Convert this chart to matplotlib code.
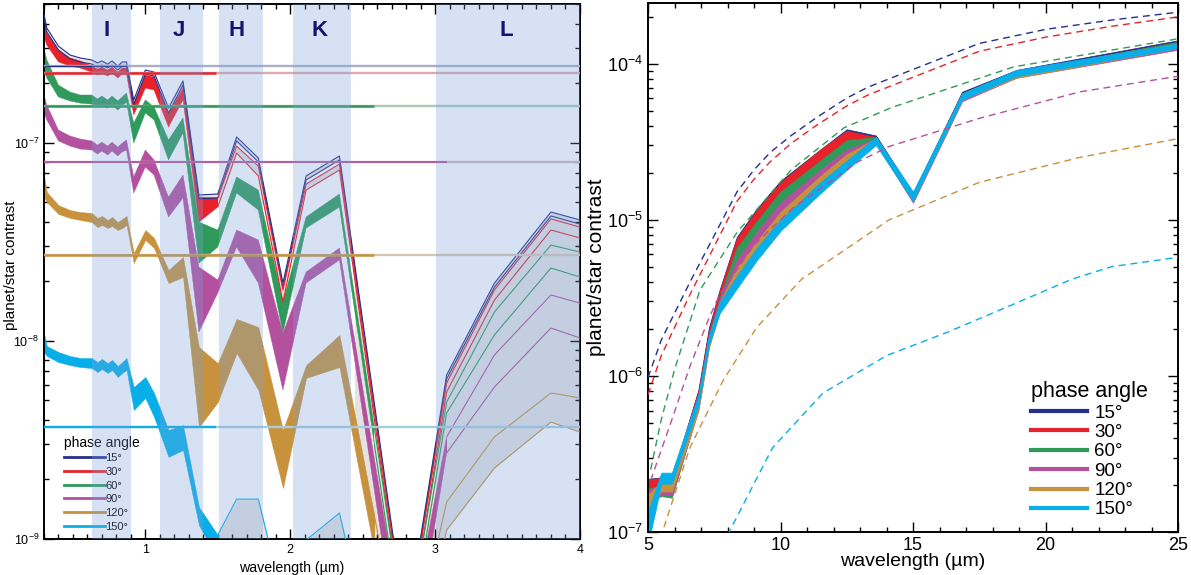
import numpy as np
import matplotlib
matplotlib.use('Agg')
import matplotlib.pyplot as plt
from matplotlib.patches import Rectangle
from matplotlib.colors import to_rgb
from matplotlib.ticker import LogLocator, MultipleLocator, FixedLocator, NullFormatter

plt.rcParams['font.family'] = ['Liberation Sans', 'DejaVu Sans']
plt.rcParams['mathtext.fontset'] = 'custom'
plt.rcParams['mathtext.rm'] = 'Liberation Sans'

phase_labels = ['15°', '30°', '60°', '90°', '120°', '150°']
colors = ['#262f8c', '#e8222b', '#2f9a5a', '#b4519f', '#c8913c', '#08aee8']

# ---------------- left panel data (log10 contrast) ----------------
lam_left = [0.30, 0.32, 0.40, 0.48, 0.55, 0.63, 0.67, 0.70, 0.74, 0.77, 0.81, 0.84, 0.87,
            0.92, 1.00, 1.06, 1.16, 1.26, 1.37, 1.50, 1.63, 1.78, 1.95, 2.11, 2.34, 2.80,
            3.08, 3.41, 3.80, 4.00]

p15_hi = [-6.350,-6.421,-6.512,-6.557,-6.572,-6.582,-6.597,-6.587,-6.603,-6.587,-6.613,-6.592,-6.592,-6.784,-6.633,-6.643,-6.825,-6.688,-7.264,-7.259,-6.971,-7.077,-7.709,-7.168,-7.067,-9.451,-8.173,-7.709,-7.350,-7.390]
p15_lo = [-6.370,-6.441,-6.532,-6.577,-6.592,-6.603,-6.618,-6.608,-6.623,-6.608,-6.633,-6.613,-6.613,-6.810,-6.653,-6.663,-6.850,-6.709,-7.284,-7.279,-6.991,-7.097,-7.734,-7.188,-7.087,-9.476,-8.193,-7.729,-7.370,-7.411]
p30_hi = [-6.370,-6.446,-6.532,-6.572,-6.587,-6.613,-6.628,-6.618,-6.633,-6.618,-6.643,-6.623,-6.623,-6.800,-6.658,-6.668,-6.850,-6.724,-7.274,-7.279,-7.017,-7.118,-7.744,-7.209,-7.108,-9.486,-8.214,-7.744,-7.385,-7.426]
p30_lo = [-6.466,-6.507,-6.592,-6.613,-6.623,-6.643,-6.658,-6.648,-6.663,-6.648,-6.673,-6.653,-6.653,-6.860,-6.724,-6.734,-6.921,-6.784,-7.401,-7.325,-7.052,-7.168,-7.805,-7.239,-7.138,-9.537,-8.259,-7.795,-7.441,-7.481]
p60_hi = [-6.522,-6.582,-6.709,-6.744,-6.759,-6.759,-6.779,-6.764,-6.784,-6.764,-6.789,-6.769,-6.749,-6.901,-6.784,-6.820,-6.986,-6.875,-7.401,-7.441,-7.173,-7.239,-7.805,-7.375,-7.259,-9.512,-8.310,-7.855,-7.517,-7.552]
p60_lo = [-6.633,-6.673,-6.769,-6.789,-6.800,-6.805,-6.820,-6.810,-6.825,-6.810,-6.835,-6.815,-6.795,-7.002,-6.850,-6.885,-7.087,-6.951,-7.608,-7.527,-7.254,-7.340,-7.961,-7.431,-7.325,-9.613,-8.365,-7.971,-7.633,-7.678]
p90_hi = [-6.759,-6.810,-6.936,-6.966,-6.981,-6.991,-7.012,-6.997,-7.017,-6.997,-7.022,-7.002,-6.986,-7.173,-7.037,-7.087,-7.274,-7.163,-7.628,-7.693,-7.441,-7.491,-7.961,-7.653,-7.532,-9.562,-8.486,-8.072,-7.769,-7.810]
p90_lo = [-6.850,-6.885,-6.991,-7.017,-7.032,-7.037,-7.057,-7.042,-7.062,-7.042,-7.067,-7.047,-7.037,-7.254,-7.123,-7.163,-7.375,-7.279,-7.956,-7.759,-7.527,-7.709,-8.249,-7.709,-7.592,-9.815,-8.567,-8.234,-7.936,-7.986]
p120_hi = [-7.163,-7.249,-7.315,-7.340,-7.350,-7.355,-7.380,-7.370,-7.390,-7.375,-7.401,-7.385,-7.370,-7.557,-7.441,-7.481,-7.643,-7.577,-8.032,-8.113,-7.890,-7.931,-8.451,-8.123,-7.971,-9.714,-8.815,-8.486,-8.264,-8.289]
p120_lo = [-7.274,-7.300,-7.360,-7.380,-7.390,-7.401,-7.426,-7.416,-7.431,-7.421,-7.441,-7.431,-7.416,-7.608,-7.491,-7.532,-7.709,-7.678,-8.436,-8.310,-8.062,-8.249,-8.744,-8.188,-8.133,-9.916,-8.956,-8.643,-8.411,-8.461]
p150_hi = [-7.961,-8.027,-8.057,-8.077,-8.087,-8.087,-8.108,-8.092,-8.113,-8.097,-8.128,-8.108,-8.087,-8.234,-8.183,-8.264,-8.451,-8.426,-8.840,-8.981,-8.800,-8.800,-9.310,-9.007,-8.870,-10.32,-10.00,-9.76,-9.31,-9.31]
p150_lo = [-8.057,-8.077,-8.108,-8.123,-8.133,-8.138,-8.158,-8.143,-8.163,-8.148,-8.183,-8.163,-8.148,-8.350,-8.289,-8.385,-8.587,-8.552,-8.931,-9.108,-9.108,-9.108,-9.562,-9.158,-9.108,-10.57,-10.25,-10.00,-9.56,-9.56]

left_hi = [p15_hi, p30_hi, p60_hi, p90_hi, p120_hi, p150_hi]
left_lo = [p15_lo, p30_lo, p60_lo, p90_lo, p120_lo, p150_lo]
left_fill_end = [0.30, 1.50, 2.58, 3.08, 2.58, 1.50]   # solid-colour part of each band
ref_level = [2.45e-7, 2.24e-7, 1.54e-7, 8.0e-8, 2.72e-8, 3.66e-9]
ref_end = [0.87, 1.49, 2.58, 3.08, 2.58, 1.49]
ref_lw = [1.0, 1.8, 1.8, 1.3, 1.8, 1.6]

band_names = ['I', 'J', 'H', 'K', 'L']
band_lo = [0.63, 1.10, 1.51, 2.02, 3.01]
band_hi = [0.90, 1.40, 1.81, 2.42, 4.00]
band_label_x = [0.73, 1.23, 1.63, 2.20, 3.49]

# ---------------- right panel data (log10 contrast) ----------------
lam_right = [5.0, 5.5, 5.9, 6.9, 7.3, 7.7, 8.35, 9.1, 10.0, 11.5, 12.5, 13.6, 15.0, 16.85, 18.9, 25.0]
r15_hi = [-6.66,-6.65,-6.65,-6.09,-5.69,-5.45,-5.11,-4.93,-4.75,-4.55,-4.42,-4.46,-4.83,-4.18,-4.04,-3.85]
r15_lo = [-6.72,-6.71,-6.72,-6.15,-5.76,-5.51,-5.19,-5.01,-4.83,-4.62,-4.49,-4.49,-4.87,-4.21,-4.07,-3.88]
r30_hi = [-6.67,-6.65,-6.65,-6.10,-5.71,-5.46,-5.12,-4.94,-4.76,-4.55,-4.43,-4.47,-4.83,-4.19,-4.05,-3.86]
r30_lo = [-6.74,-6.72,-6.72,-6.17,-5.77,-5.53,-5.19,-5.01,-4.83,-4.62,-4.49,-4.49,-4.87,-4.22,-4.08,-3.89]
r60_hi = [-6.72,-6.71,-6.73,-6.14,-5.74,-5.50,-5.18,-5.01,-4.82,-4.62,-4.49,-4.47,-4.84,-4.19,-4.05,-3.86]
r60_lo = [-6.80,-6.77,-6.78,-6.21,-5.80,-5.56,-5.26,-5.08,-4.90,-4.68,-4.55,-4.51,-4.88,-4.22,-4.08,-3.89]
r90_hi = [-6.73,-6.70,-6.70,-6.14,-5.75,-5.51,-5.26,-5.08,-4.89,-4.68,-4.55,-4.48,-4.85,-4.21,-4.06,-3.88]
r90_lo = [-6.83,-6.76,-6.76,-6.22,-5.81,-5.58,-5.32,-5.14,-4.96,-4.74,-4.60,-4.51,-4.89,-4.24,-4.09,-3.91]
r120_hi = [-6.76,-6.68,-6.68,-6.15,-5.76,-5.53,-5.31,-5.14,-4.95,-4.72,-4.58,-4.48,-4.84,-4.20,-4.06,-3.87]
r120_lo = [-6.86,-6.74,-6.74,-6.22,-5.82,-5.59,-5.37,-5.19,-5.01,-4.78,-4.64,-4.51,-4.88,-4.23,-4.09,-3.90]
r150_hi = [-6.87,-6.62,-6.62,-6.12,-5.74,-5.53,-5.36,-5.18,-5.00,-4.76,-4.62,-4.47,-4.82,-4.19,-4.04,-3.87]
r150_lo = [-7.08,-6.69,-6.69,-6.19,-5.80,-5.60,-5.44,-5.26,-5.07,-4.83,-4.68,-4.52,-4.88,-4.23,-4.08,-3.90]
right_hi = [r15_hi, r30_hi, r60_hi, r90_hi, r120_hi, r150_hi]
right_lo = [r15_lo, r30_lo, r60_lo, r90_lo, r120_lo, r150_lo]

# dashed reference curves (log10 contrast)
d15_x = [5.0, 5.5, 6.58, 8.36, 9.0, 9.6, 10.4, 11.4, 12.5, 13.3, 14.2, 17.5, 20.0, 22.5, 25.0]
d15_y = [-6.01,-5.77,-5.40,-4.82,-4.68,-4.57,-4.46,-4.34,-4.22,-4.15,-4.09,-3.87,-3.78,-3.72,-3.67]
d30_x = [5.0, 5.5, 6.58, 8.36, 9.0, 9.6, 10.4, 11.4, 12.5, 13.3, 14.2, 17.5, 20.0, 22.5, 25.0]
d30_y = [-6.12,-5.87,-5.48,-4.88,-4.74,-4.63,-4.51,-4.39,-4.27,-4.20,-4.14,-3.92,-3.83,-3.76,-3.70]
d60_x = [5.1, 5.5, 6.0, 6.96, 8.36, 10.4, 12.4, 14.2, 18.8, 25.0]
d60_y = [-6.60,-6.28,-5.96,-5.45,-5.08,-4.68,-4.41,-4.28,-4.02,-3.84]
d90_x = [5.1, 5.9, 6.6, 7.3, 7.7, 9.0, 10.5, 12.0, 12.9, 14.1, 17.5, 21.3, 25.0]
d90_y = [-6.67,-6.28,-5.93,-5.63,-5.48,-5.16,-4.92,-4.74,-4.63,-4.53,-4.35,-4.18,-4.08]
d120_x = [5.6, 6.58, 7.83, 9.1, 10.8, 14.1, 17.5, 21.3, 25.0]
d120_y = [-6.97,-6.46,-6.03,-5.69,-5.38,-5.00,-4.76,-4.60,-4.48]
d150_x = [8.0, 9.7, 11.6, 14.0, 16.3, 18.8, 21.0, 22.5, 25.0]
d150_y = [-7.02,-6.46,-6.11,-5.87,-5.72,-5.54,-5.38,-5.30,-5.24]
dash_x = [d15_x, d30_x, d60_x, d90_x, d120_x, d150_x]
dash_y = [d15_y, d30_y, d60_y, d90_y, d120_y, d150_y]

# ---------------- figure ----------------
fig = plt.figure(figsize=(11.91, 5.75), dpi=100)

def style_axes(ax, lw=1.4):
    for s in ax.spines.values():
        s.set_linewidth(lw)
    ax.tick_params(which='both', direction='in', top=True, right=True, width=1.0)
    ax.tick_params(which='major', length=7)
    ax.tick_params(which='minor', length=3.5)

# ---- left ----
XL0, XL1, YL0, YL1 = 0.3, 4.0, 1e-9, 5e-7
axL = fig.add_axes([0.0369, 0.0631, 0.4500, 0.9294])
axL.set_yscale('log')
axL.set_xlim(XL0, XL1)
axL.set_ylim(YL0, YL1)
lamL = np.array(lam_left)

def clip_rect(ax, x0, x1):
    x0 = max(x0, XL0); x1 = min(x1, XL1)
    return Rectangle((x0, YL0), x1 - x0, YL1 - YL0, transform=ax.transData)

GRAY = '#e3e3e3'
# envelope shading where all curves are shown as outlines
env = axL.fill_between(lamL, 10**np.array(p120_lo), 10**np.array(p15_hi), color=GRAY, lw=0, zorder=1)
env.set_clip_path(clip_rect(axL, 2.45, 4.5))

for i in range(6):
    hi = 10**np.array(left_hi[i]); lo = 10**np.array(left_lo[i])
    c = colors[i]; fe = left_fill_end[i]
    g = axL.fill_between(lamL, lo, hi, color=GRAY, lw=0, zorder=1.1)
    g.set_clip_path(clip_rect(axL, fe, 4.5))
    for arr in (hi, lo):
        ln, = axL.plot(lamL, arr, color=c, lw=0.8, zorder=3 + 0.01 * i)
        ln.set_clip_path(clip_rect(axL, fe, 4.5))
    if fe > XL0:
        f = axL.fill_between(lamL, lo, hi, color=c, lw=0.3, edgecolor=c, zorder=2 + 0.01 * i)
        f.set_clip_path(clip_rect(axL, 0.0, fe))

for i in range(6):
    c = np.array(to_rgb(colors[i]))
    ext = 0.25 * c + 0.75 * np.array([0.85, 0.85, 0.85])
    axL.hlines(ref_level[i], XL0, XL1, color=ext, lw=1.7, zorder=4)
    axL.hlines(ref_level[i], XL0, ref_end[i], color=colors[i], lw=ref_lw[i], zorder=4.1)

for b0, b1 in zip(band_lo, band_hi):
    axL.axvspan(b0, b1, color='#7aa2da', alpha=0.3, lw=0, zorder=5)
for name, bx in zip(band_names, band_label_x):
    axL.text(bx, 3.7e-7, name, ha='center', va='center', fontsize=16, fontweight='bold',
             color='#141470', zorder=7)

hL = [plt.Line2D([], [], color=colors[i], lw=2) for i in range(6)]
legL = axL.legend(hL, phase_labels, title='phase angle', loc='upper left',
                  bbox_to_anchor=(0.037, 0.193), frameon=False, fontsize=8,
                  title_fontsize=10, handlelength=3.7, handletextpad=0.05,
                  labelspacing=0.33, borderpad=0, borderaxespad=0, alignment='left')
legL.set_zorder(4.5)

axL.xaxis.set_major_locator(FixedLocator([1, 2, 3, 4]))
axL.xaxis.set_minor_locator(MultipleLocator(0.1))
axL.yaxis.set_major_locator(LogLocator(base=10, numticks=10))
axL.yaxis.set_minor_locator(LogLocator(base=10, subs=np.arange(2, 10), numticks=10))
axL.yaxis.set_minor_formatter(NullFormatter())
style_axes(axL)
axL.tick_params(labelsize=9)
axL.set_xlabel('wavelength (µm)', fontsize=10.2)
axL.set_ylabel('planet/star contrast', fontsize=11)
axL.xaxis.set_label_coords(0.463, -0.042)
axL.yaxis.set_label_coords(-0.048, 0.512)

# ---- right ----
axR = fig.add_axes([0.5441, 0.0748, 0.4450, 0.9200])
axR.set_yscale('log')
axR.set_xlim(5, 25)
axR.set_ylim(1e-7, 2.45e-4)
lamR = np.array(lam_right)
for i in range(6):
    hi = 10**np.array(right_hi[i]); lo = 10**np.array(right_lo[i])
    axR.fill_between(lamR, lo, hi, color=colors[i], edgecolor=colors[i], lw=0.6, zorder=2 + 0.01 * i)
for i in range(6):
    axR.plot(dash_x[i], 10**np.array(dash_y[i]), color=colors[i], lw=1.0,
             ls=(0, (5, 3.5)), zorder=3)

hR = [plt.Line2D([], [], color=colors[i], lw=3) for i in range(6)]
axR.legend(hR, phase_labels, title='phase angle', loc='upper left',
           bbox_to_anchor=(0.722, 0.285), frameon=False, fontsize=13.5,
           title_fontsize=15.5, handlelength=3.0, handletextpad=0.4,
           labelspacing=0.12, borderpad=0, borderaxespad=0, alignment='left')

axR.xaxis.set_major_locator(MultipleLocator(5))
axR.xaxis.set_minor_locator(MultipleLocator(1))
axR.yaxis.set_major_locator(LogLocator(base=10, numticks=10))
axR.yaxis.set_minor_locator(LogLocator(base=10, subs=np.arange(2, 10), numticks=10))
axR.yaxis.set_minor_formatter(NullFormatter())
style_axes(axR)
axR.tick_params(axis='x', labelsize=13)
axR.tick_params(axis='y', labelsize=13)
axR.set_xlabel('wavelength (µm)', fontsize=14, va='top')
axR.set_ylabel('planet/star contrast', fontsize=15)
axR.xaxis.set_label_coords(0.5, -0.040)
axR.yaxis.set_label_coords(-0.080, 0.50)

fig.savefig('out.png', dpi=100)
